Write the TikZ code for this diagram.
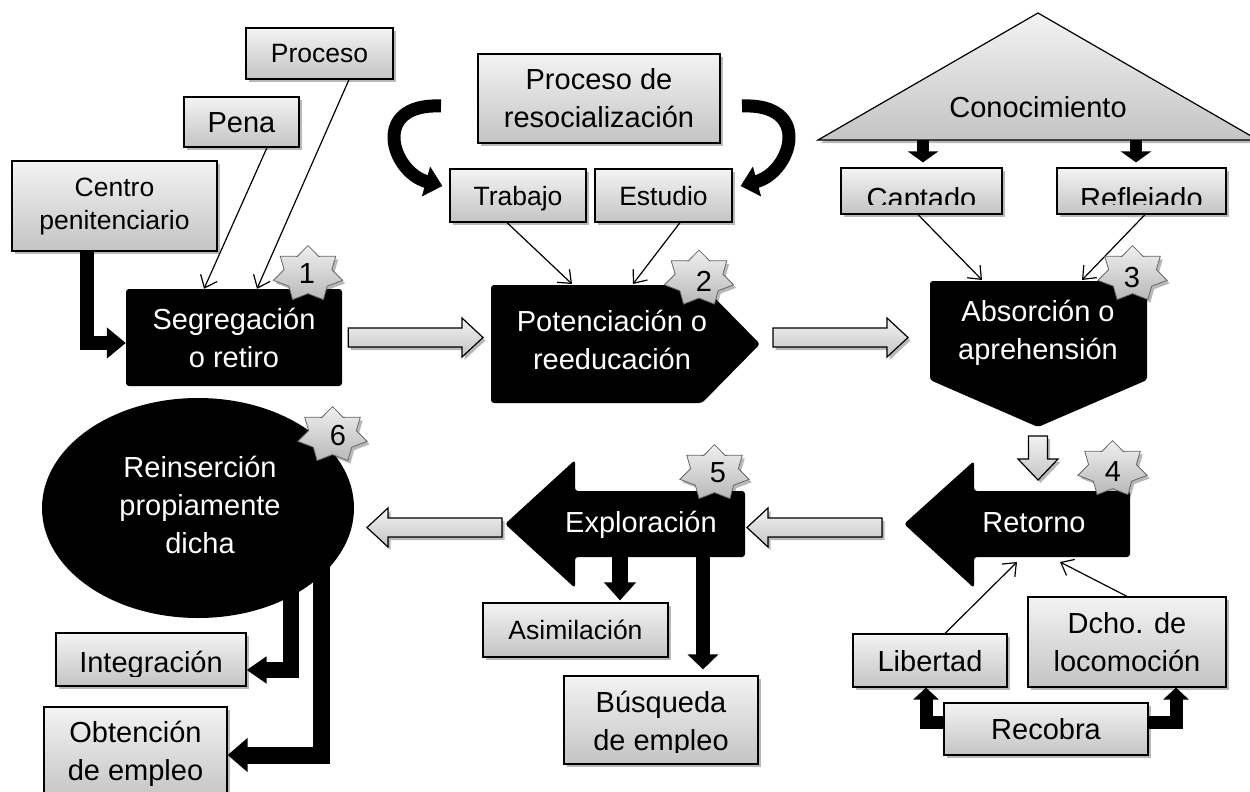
\documentclass[tikz,border=0pt]{standalone}
\usepackage{fontspec}
\setmainfont{Liberation Sans}
\usetikzlibrary{shapes.geometric,arrows.meta,shadows,calc}
\definecolor{gtop}{HTML}{F3F3F3}
\definecolor{gbot}{HTML}{C4C4C4}
\definecolor{stop}{HTML}{F0F0F0}
\definecolor{sbot}{HTML}{B8B8B8}
\newcommand{\fA}{\fontsize{29pt}{38pt}\selectfont}
\newcommand{\fB}{\fontsize{26.5pt}{33pt}\selectfont}
\tikzset{
  shd/.style={drop shadow={shadow xshift=2.5pt,shadow yshift=-3pt,opacity=0.28,fill=black}},
  gbox/.style={shd, draw=black, line width=1.2pt, top color=gtop, bottom color=gbot, inner sep=0pt, align=center, font=\fA},
  gboxB/.style={gbox, font=\fB},
  oneA/.style={text height=21pt, text depth=0pt},
  oneB/.style={text height=19pt, text depth=0pt},
  blk/.style={fill=black, rounded corners=3pt},
  wtext/.style={text=white, font=\fA, align=center, inner sep=0pt},
  btext/.style={font=\fA, align=center, inner sep=0pt},
  thinarr/.style={line width=1.2pt, -{Straight Barb[length=11pt,width=18pt]}},
  barrow/.style args={#1/#2/#3}{line width=#1, line join=miter, -{Triangle[length=#2,width=#3]}},
  gshape/.style={shd, draw=black, line width=1.2pt, top color=gtop, bottom color=gbot, line join=miter},
  starst/.style={star, star points=7, star point ratio=1.45, minimum size=71pt, inner sep=0pt, draw=gray!80!black, line width=0.8pt, top color=stop, bottom color=sbot, shd},
}
\newcommand{\garrowh}[3]{%
  \filldraw[gshape] let \p1=(#1), \p2=(#2) in
   (\x1,{\y1+9.5pt}) -- ({\x2-(#3)*21pt},{\y1+9.5pt}) -- ({\x2-(#3)*21pt},{\y1+19.5pt}) -- (\x2,\y2)
   -- ({\x2-(#3)*21pt},{\y1-19.5pt}) -- ({\x2-(#3)*21pt},{\y1-9.5pt}) -- (\x1,{\y1-9.5pt}) -- cycle;}
\newcommand{\numstar}[6]{%
  \begin{scope}[shift={(#2,#3)}, yscale=0.8]
    \node[starst, transform shape] (#1) at (0,0) {};
  \end{scope}
  \node[font=\fA, oneA, inner sep=0pt] (#1n) at (#5,#6) {#4};}
\begin{document}
\begin{tikzpicture}[x=1pt,y=-1pt]
\useasboundingbox (0,0) rectangle (1250,792);

% ---------- top-left boxes
\node[gboxB, oneB, minimum width=147pt, minimum height=51pt] (proceso) at (319.5,53.5) {Proceso};
\node[gbox, oneA, minimum width=115pt, minimum height=50pt] (pena) at (241.5,122) {Pena};
\node[gboxB, minimum width=205pt, minimum height=90pt] (centro) at (114.5,206) {Centro\\penitenciario};
\node[gbox, minimum width=242pt, minimum height=89pt] (resoc) at (599,98.5) {Proceso de\\resocialización};
\node[gboxB, oneB, minimum width=136pt, minimum height=53pt] (trabajo) at (518,195.5) {Trabajo};
\node[gboxB, oneB, minimum width=137pt, minimum height=53pt] (estudio) at (663.5,195.5) {Estudio};

% ---------- black main shapes
\node[blk, wtext, minimum width=216pt, minimum height=97pt] (segr) at (234,337.5) {Segregación\\o retiro};
\fill[blk] (491,285) -- (702,285) -- (760,344) -- (702,403) -- (491,403) -- cycle;
\node[wtext] (pot) at (612,340) {Potenciación o\\reeducación};

% ---------- Conocimiento
\filldraw[gshape] (818,140) -- (1038,13) -- (1258,140) -- cycle;
\node[btext, anchor=base] (conoc) at (1038,117) {Conocimiento};
\node[gbox, minimum width=161pt, minimum height=46pt] (captado) at (921.5,191) {};
\begin{scope}\clip (841,168) rectangle (1002,204.5);
  \node[btext, anchor=base] (captadot) at (921.5,208) {Captado};
\end{scope}
\node[gbox, minimum width=169pt, minimum height=46pt] (reflejado) at (1141.5,191) {};
\begin{scope}\clip (1057,168) rectangle (1226,204.5);
  \node[btext, anchor=base] (reflejadot) at (1141.5,208) {Reflejado};
\end{scope}

\fill[blk] (930,281) -- (1147,281) -- (1147,380) -- (1038,427) -- (930,380) -- cycle;
\begin{scope}\clip (930,281) rectangle (1147,364);
  \node[wtext] (abs) at (1038,333) {Absorción o\\aprehensión};
\end{scope}

\fill[blk] (1130,491) -- (974,491) -- (974,461) -- (904,524) -- (974,588) -- (974,557) -- (1130,557) -- cycle;
\node[wtext, anchor=base] (ret) at (1034,532) {Retorno};

\fill[blk] (745,491) -- (575,491) -- (575,460) -- (505,524) -- (575,588) -- (575,557) -- (745,557) -- cycle;
\node[wtext, anchor=base] (expl) at (641,532) {Exploración};

\node[ellipse, fill=black, minimum width=312pt, minimum height=220pt, inner sep=0pt] (reins) at (198,508) {};
\node[wtext] (reinst) at (200,505) {Reinserción\\propiamente\\dicha};

% ---------- bottom boxes
\node[gbox, oneA, minimum width=154pt, minimum height=53pt] (libertad) at (930,660.5) {Libertad};
\node[gbox, minimum width=198pt, minimum height=90pt] (dcho) at (1127,642) {Dcho. de\\locomoción};
\node[gbox, oneA, minimum width=204pt, minimum height=52pt] (recobra) at (1046,729) {Recobra};
\node[gboxB, oneB, minimum width=185pt, minimum height=54pt] (asim) at (575.5,630) {Asimilación};
\node[gbox, minimum width=194pt, minimum height=88pt] (busq) at (661,720) {};
\begin{scope}\clip (564,676) rectangle (758,752);
  \node[btext] (busqt) at (661,724) {Búsqueda\\de empleo};
\end{scope}
\node[gbox, minimum width=190pt, minimum height=53pt] (integ) at (151,659.5) {};
\begin{scope}\clip (56,633) rectangle (246,676);
  \node[btext, anchor=base] (integt) at (151,672) {Integración};
\end{scope}
\node[gbox, minimum width=183pt, minimum height=93pt] (obt) at (135.5,753.5) {Obtención\\de empleo};

% ---------- thin arrows
\draw[thinarr] ([xshift=25.5pt]pena.south) -- ([xshift=-30pt]segr.north);
\draw[thinarr] ([xshift=29.5pt]proceso.south) -- ([xshift=23pt]segr.north);
\coordinate (potA) at (572,284); \coordinate (potB) at (633,284);
\draw[thinarr] ([xshift=-11pt]trabajo.south) -- (potA);
\draw[thinarr] ([xshift=16.5pt]estudio.south) -- (potB);
\coordinate (absA) at (982,280); \coordinate (absB) at (1082,280);
\draw[thinarr] ([xshift=-3.5pt]captado.south) -- (absA);
\draw[thinarr] ([xshift=3.5pt]reflejado.south) -- (absB);
\coordinate (retA) at (1017,562); \coordinate (retB) at (1060,562);
\draw[thinarr] ([xshift=15pt]libertad.north) -- (retA);
\draw[thinarr] (dcho.north) -- (retB);

% ---------- curved thick arrows
\coordinate (cL) at (441,106); \coordinate (cR) at (742,106);
\draw[barrow={13pt/17pt/30pt}] (cL) .. controls +(-71,-3) and +(-51,-14) .. ([xshift=-7pt,yshift=9.5pt]trabajo.west);
\draw[barrow={13pt/17pt/30pt}] (cR) .. controls +(71,-3) and +(51,-14) .. ([xshift=8pt,yshift=9.5pt]estudio.east);

% ---------- thick black arrows
\draw[barrow={14pt/19pt/30pt}] ([xshift=-27.5pt]centro.south) |- ([yshift=-5.5pt]segr.west);
\coordinate (kA) at (923,140); \coordinate (kB) at (1136,140);
\draw[barrow={12pt/11pt/30pt}] (kA) -- ([xshift=1.5pt,yshift=5pt]captado.north);
\draw[barrow={12pt/11pt/30pt}] (kB) -- ([xshift=-5.5pt,yshift=5pt]reflejado.north);
\coordinate (eA) at (620,550); \coordinate (eB) at (703,550);
\draw[barrow={16pt/18pt/31pt}] (eA) -- ([xshift=44.5pt,yshift=2pt]asim.north);
\draw[barrow={14pt/15pt/30pt}] (eB) -- ([xshift=42pt,yshift=6pt]busq.north);
\coordinate (rA) at (291,585); \coordinate (rB) at (321,565);
\draw[barrow={16pt/20pt/26pt}] (rA) |- ([yshift=-10.5pt]integ.east);
\draw[barrow={17pt/20pt/33pt}] (rB) |- ([yshift=-1.5pt]obt.east);
\draw[barrow={13pt/12pt/25pt}] ([yshift=7pt]recobra.west) -| ([xshift=-4pt]libertad.south);
\draw[barrow={13pt/12pt/25pt}] ([yshift=7pt]recobra.east) -| ([xshift=49pt]dcho.south);

% ---------- gray block arrows
\coordinate (g1t) at (483,337.5);
\garrowh{[xshift=6pt]segr.east}{g1t}{1}
\coordinate (g2s) at (773,337.5); \coordinate (g2t) at (908,337.5);
\garrowh{g2s}{g2t}{1}
\coordinate (g3s) at (882,527.5); \coordinate (g3t) at (747,527.5);
\garrowh{g3s}{g3t}{-1}
\coordinate (g4s) at (502,527.5); \coordinate (g4t) at (367,527.5);
\garrowh{g4s}{g4t}{-1}
\coordinate (g5s) at (1038,436); \coordinate (g5t) at (1038,480);
\filldraw[gshape] let \p1=(g5s), \p2=(g5t) in
  ({\x1-9.5pt},\y1) -- ({\x1-9.5pt},{\y2+21pt}) -- ({\x1-20pt},{\y2+21pt}) -- (\x2,\y2)
  -- ({\x1+20pt},{\y2+21pt}) -- ({\x1+9.5pt},{\y2+21pt}) -- ({\x1+9.5pt},\y1) -- cycle;

% ---------- numbered stars
\numstar{s1}{308}{274}{1}{307}{273}
\numstar{s2}{699}{278.5}{2}{704}{281}
\numstar{s3}{1132.5}{274}{3}{1132}{277}
\numstar{s4}{1112.5}{469}{4}{1113}{471}
\numstar{s5}{714.5}{473}{5}{718}{472}
\numstar{s6}{332.5}{435}{6}{338}{435}
\end{tikzpicture}
\end{document}
